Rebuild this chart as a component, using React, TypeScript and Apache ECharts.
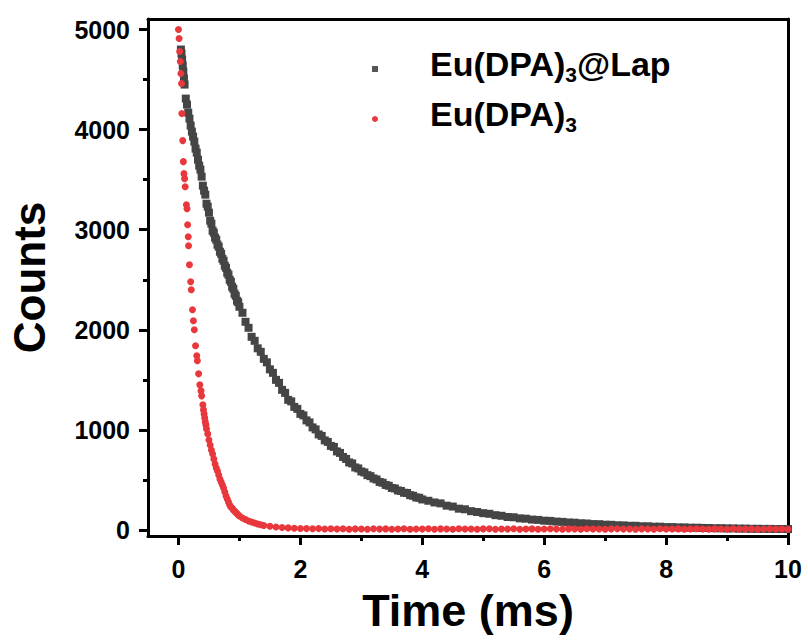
import React, { useEffect, useRef } from "react";
import * as echarts from "echarts";

const lapData: [number, number][] = [
  [0.04, 4800], [0.05, 4760], [0.06, 4700], [0.07, 4640], [0.08, 4580], [0.09, 4510], [0.10, 4450],
  [0.12, 4310], [0.14, 4250], [0.16, 4170], [0.18, 4110], [0.20, 4040], [0.22, 3980], [0.24, 3930],
  [0.26, 3880], [0.28, 3810], [0.30, 3770], [0.32, 3700], [0.34, 3640], [0.36, 3600], [0.38, 3530],
  [0.40, 3440], [0.42, 3390], [0.44, 3350], [0.46, 3260], [0.48, 3230], [0.50, 3170], [0.52, 3090],
  [0.54, 3060], [0.56, 2990], [0.58, 2970], [0.60, 2920], [0.62, 2900], [0.64, 2850], [0.66, 2830],
  [0.68, 2780], [0.70, 2760], [0.72, 2710], [0.74, 2690], [0.76, 2640], [0.78, 2620], [0.80, 2570],
  [0.82, 2550], [0.84, 2500], [0.86, 2480], [0.88, 2430], [0.90, 2410], [0.92, 2360], [0.94, 2340],
  [0.96, 2290], [0.98, 2275], [1.00, 2230], [1.05, 2170], [1.10, 2080], [1.15, 2020], [1.20, 1930],
  [1.25, 1890], [1.30, 1815], [1.35, 1780], [1.40, 1710], [1.45, 1675], [1.50, 1605], [1.55, 1570],
  [1.60, 1500], [1.65, 1470], [1.70, 1400], [1.75, 1370], [1.80, 1300], [1.85, 1285], [1.90, 1230],
  [1.95, 1210], [2.00, 1160], [2.05, 1145], [2.10, 1095], [2.15, 1075], [2.20, 1025], [2.25, 1005],
  [2.30, 955], [2.35, 940], [2.40, 895], [2.45, 880], [2.50, 840], [2.55, 830], [2.60, 785],
  [2.65, 770], [2.70, 730], [2.75, 710], [2.80, 675], [2.85, 665], [2.90, 625], [2.95, 615],
  [3.00, 585], [3.05, 575], [3.10, 548], [3.15, 538], [3.20, 515], [3.25, 505], [3.30, 480],
  [3.35, 472], [3.40, 450], [3.45, 442], [3.50, 420], [3.55, 415], [3.60, 395], [3.65, 390],
  [3.70, 372], [3.75, 370], [3.80, 348], [3.85, 342], [3.90, 325], [3.95, 322], [4.00, 305],
  [4.10, 292], [4.20, 275], [4.30, 266], [4.40, 243], [4.50, 234], [4.60, 213], [4.70, 207],
  [4.80, 188], [4.90, 180], [5.00, 168], [5.10, 162], [5.20, 148], [5.30, 142], [5.40, 130],
  [5.50, 127], [5.60, 116], [5.70, 113], [5.80, 104], [5.90, 101], [6.00, 93], [6.10, 91], [6.20, 84],
  [6.30, 81], [6.40, 75], [6.50, 73], [6.60, 67], [6.70, 65], [6.80, 59], [6.90, 58], [7.00, 53],
  [7.10, 52], [7.20, 47], [7.30, 46], [7.40, 42], [7.50, 42], [7.60, 37], [7.70, 37], [7.80, 33],
  [7.90, 33], [8.00, 29], [8.10, 29], [8.20, 26], [8.30, 26], [8.40, 23], [8.50, 23], [8.60, 21],
  [8.70, 20], [8.80, 18], [8.90, 18], [9.00, 16], [9.10, 16], [9.20, 14], [9.30, 14], [9.40, 12],
  [9.50, 12], [9.60, 11], [9.70, 11], [9.80, 10], [9.90, 10], [10.00, 9],
];

const pureData: [number, number][] = [
  [0.00, 5000], [0.01, 4910], [0.02, 4780], [0.03, 4680], [0.04, 4560], [0.05, 4460], [0.055, 4160],
  [0.07, 3890], [0.08, 3680], [0.09, 3560], [0.10, 3510], [0.11, 3430], [0.13, 3250], [0.14, 3210],
  [0.15, 3050], [0.16, 2930], [0.165, 2840], [0.18, 2650], [0.20, 2480], [0.21, 2400], [0.23, 2200],
  [0.245, 2090], [0.26, 2000], [0.28, 1840], [0.30, 1740], [0.31, 1690], [0.33, 1560], [0.35, 1450],
  [0.37, 1390], [0.38, 1340], [0.40, 1250], [0.41, 1200], [0.42, 1160], [0.43, 1120], [0.44, 1080],
  [0.45, 1050], [0.46, 1010], [0.48, 960], [0.50, 900], [0.52, 850], [0.54, 800], [0.56, 760],
  [0.58, 710], [0.60, 660], [0.62, 620], [0.64, 590], [0.66, 550], [0.68, 510], [0.70, 480],
  [0.72, 450], [0.74, 420], [0.76, 380], [0.78, 340], [0.80, 310], [0.82, 280], [0.84, 250],
  [0.86, 230], [0.88, 220], [0.90, 200], [0.92, 190], [0.94, 175], [0.96, 165], [0.98, 150],
  [1.00, 140], [1.05, 120], [1.10, 105], [1.15, 90], [1.20, 80], [1.25, 70], [1.30, 60],
  [1.35, 52], [1.40, 45], [1.50, 38], [1.60, 30], [1.70, 25], [1.80, 21], [1.90, 18], [2.00, 15],
  [2.10, 14], [2.20, 12], [2.30, 14], [2.40, 10], [2.50, 13], [2.60, 9], [2.70, 12], [2.80, 8],
  [2.90, 11], [3.00, 10], [3.10, 7], [3.20, 12], [3.30, 9], [3.40, 11], [3.50, 8], [3.60, 10],
  [3.70, 13], [3.80, 7], [3.90, 10], [4.00, 9], [4.10, 12], [4.20, 8], [4.30, 11], [4.40, 10],
  [4.50, 7], [4.60, 12], [4.70, 9], [4.80, 10], [4.90, 8], [5.00, 11], [5.10, 13], [5.20, 8],
  [5.30, 10], [5.40, 9], [5.50, 12], [5.60, 7], [5.70, 10], [5.80, 11], [5.90, 8], [6.00, 10],
  [6.10, 12], [6.20, 9], [6.30, 8], [6.40, 11], [6.50, 10], [6.60, 7], [6.70, 12], [6.80, 9],
  [6.90, 10], [7.00, 8], [7.10, 11], [7.20, 13], [7.30, 9], [7.40, 10], [7.50, 7], [7.60, 11],
  [7.70, 10], [7.80, 8], [7.90, 12], [8.00, 9], [8.10, 10], [8.20, 11], [8.30, 8], [8.40, 10],
  [8.50, 12], [8.60, 9], [8.70, 7], [8.80, 11], [8.90, 10], [9.00, 8], [9.10, 12], [9.20, 9],
  [9.30, 10], [9.40, 11], [9.50, 8], [9.60, 10], [9.70, 13], [9.80, 9], [9.90, 10], [10.00, 8],
];

const xMajorTicks = [0, 2, 4, 6, 8, 10];
const xMinorTicks = [1, 3, 5, 7, 9];
const yMajorTicks = [0, 1000, 2000, 3000, 4000, 5000];
const yMinorTicks = [500, 1500, 2500, 3500, 4500];

const seriesNames = ["Eu(DPA)3@Lap", "Eu(DPA)3"];

export default function App() {
  const ref = useRef<HTMLDivElement>(null);
  useEffect(() => {
    if (!ref.current) return;
    const chart = echarts.init(ref.current, null, { renderer: "svg" });
    const font = "Liberation Sans, Arial, sans-serif";
    const xMin = -0.5, xMax = 10, yMin = -60, yMax = 5105;
    const lineStyle = { color: "#000", width: 3 };
    const labelStyle = {
      color: "#000",
      fontSize: 25,
      fontWeight: "bold" as const,
      fontFamily: font,
      formatter: (v: number) => String(v),
    };
    const baseX = { type: "value", min: xMin, max: xMax, splitLine: { show: false } };
    const baseY = { type: "value", min: yMin, max: yMax, splitLine: { show: false } };
    chart.setOption({
      animation: false,
      backgroundColor: "#fff",
      grid: { left: 148, right: 20, top: 19, bottom: 106, containLabel: false, outerBoundsMode: "none" },
      legend: {
        orient: "vertical",
        left: 367,
        top: 41,
        itemGap: 4,
        itemWidth: 6,
        itemHeight: 6,
        data: [
          { name: seriesNames[0], icon: "rect", itemStyle: { color: "#555555" } },
          { name: seriesNames[1], icon: "circle", itemStyle: { color: "#e8383d" } },
        ],
        formatter: (name: string) =>
          name === seriesNames[0] ? "{sp|}{a|Eu(DPA)}{s|3}{a|@Lap}" : "{sp|}{a|Eu(DPA)}{s|3}",
        textStyle: {
          rich: {
            sp: { width: 47, height: 36 },
            a: { fontSize: 34, fontWeight: "bold", fontFamily: font, color: "#000", lineHeight: 36, height: 36, padding: [0, 0, 10, 0], verticalAlign: "middle" },
            s: { fontSize: 21, fontWeight: "bold", fontFamily: font, color: "#000", padding: [10, 0, 0, 0], verticalAlign: "middle" },
          },
        },
      },
      xAxis: [
        {
          ...baseX,
          position: "bottom",
          name: "Time (ms)",
          nameLocation: "middle",
          nameGap: 52,
          nameTextStyle: { color: "#000", fontSize: 45, fontWeight: "bold", fontFamily: font },
          axisLine: { show: true, onZero: false, lineStyle },
          axisTick: { show: true, inside: false, length: 9, lineStyle: { color: "#000", width: 3 }, customValues: xMajorTicks },
          axisLabel: { ...labelStyle, margin: 20, customValues: xMajorTicks },
        },
        {
          ...baseX,
          position: "bottom",
          axisLine: { show: false, onZero: false },
          axisTick: { show: true, inside: false, length: 5, lineStyle: { color: "#000", width: 3 }, customValues: xMinorTicks },
          axisLabel: { show: false },
        },
        {
          ...baseX,
          position: "top",
          axisLine: { show: true, onZero: false, lineStyle },
          axisTick: { show: false },
          axisLabel: { show: false },
        },
      ],
      yAxis: [
        {
          ...baseY,
          position: "left",
          name: "Counts",
          nameLocation: "middle",
          nameGap: 97,
          nameTextStyle: { color: "#000", fontSize: 44, fontWeight: "bold", fontFamily: font },
          axisLine: { show: true, onZero: false, lineStyle },
          axisTick: { show: true, inside: false, length: 9, lineStyle: { color: "#000", width: 3 }, customValues: yMajorTicks },
          axisLabel: { ...labelStyle, margin: 18, customValues: yMajorTicks },
        },
        {
          ...baseY,
          position: "left",
          axisLine: { show: false, onZero: false },
          axisTick: { show: true, inside: false, length: 5, lineStyle: { color: "#000", width: 3 }, customValues: yMinorTicks },
          axisLabel: { show: false },
        },
        {
          ...baseY,
          position: "right",
          axisLine: { show: true, onZero: false, lineStyle },
          axisTick: { show: false },
          axisLabel: { show: false },
        },
      ],
      series: [
        {
          name: seriesNames[0],
          type: "scatter",
          xAxisIndex: 0,
          yAxisIndex: 0,
          symbol: "rect",
          symbolSize: 8,
          itemStyle: { color: "#454545", opacity: 1 },
          data: lapData,
          z: 2,
        },
        {
          name: seriesNames[1],
          type: "scatter",
          xAxisIndex: 0,
          yAxisIndex: 0,
          symbol: "circle",
          symbolSize: 7,
          itemStyle: { color: "#e8383d", opacity: 1 },
          data: pureData,
          z: 3,
        },
      ],
    });
    return () => chart.dispose();
  }, []);
  return (
    <div
      ref={ref}
      style={{ position: "absolute", left: 0, top: 0, width: 808, height: 642 }}
    />
  );
}
